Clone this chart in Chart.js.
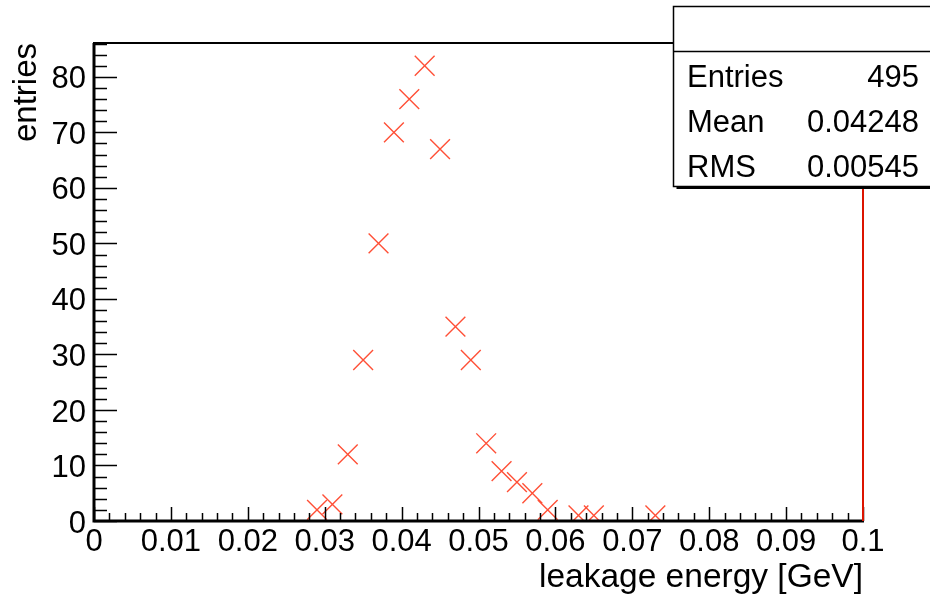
<!DOCTYPE html>
<html>
<head>
<meta charset="utf-8">
<script src="https://cdn.jsdelivr.net/npm/chart.js@4"></script>
<style>
html, body { margin: 0; padding: 0; background: #fff; }
#wrap { width: 930px; height: 597px; }
</style>
</head>
<body>
<div id="wrap"><canvas id="hist" width="930" height="597"></canvas></div>
<script>
// histogram contents (bin width 0.002 GeV)
const binCenters = [0.029, 0.031, 0.033, 0.035, 0.037, 0.039, 0.041, 0.043, 0.045, 0.047,
                    0.049, 0.051, 0.053, 0.055, 0.057, 0.059, 0.063, 0.065, 0.073];
const counts = [2, 3, 12, 29, 50, 70, 76, 82, 67, 35, 29, 14, 9, 7, 5, 2, 1, 1, 1];

const xTicks = [0, 0.01, 0.02, 0.03, 0.04, 0.05, 0.06, 0.07, 0.08, 0.09, 0.1];
const xTickLabels = ['0', '0.01', '0.02', '0.03', '0.04', '0.05', '0.06', '0.07', '0.08', '0.09', '0.1'];
const yTicks = [0, 10, 20, 30, 40, 50, 60, 70, 80];
const yTickLabels = ['0', '10', '20', '30', '40', '50', '60', '70', '80'];

const statsLabels = ['Entries', 'Mean', 'RMS'];
const statsValues = ['495', '0.04248', '0.00545'];

const FONT = '"Liberation Sans", Arial, sans-serif';
const markerColor = 'rgb(255, 80, 55)';

// ROOT style frame: inward ticks, thick axes, red right edge, stats box
const rootFrame = {
  id: 'rootFrame',
  afterDraw(chart) {
    const ctx = chart.ctx;
    const xs = chart.scales.x, ys = chart.scales.y;
    const a = chart.chartArea;
    ctx.save();
    ctx.strokeStyle = '#000';

    // x ticks (every 0.002, major every 0.01)
    ctx.lineWidth = 1.5;
    ctx.beginPath();
    for (let i = 0; i <= 50; i++) {
      const px = Math.round(xs.getPixelForValue(i * 0.002)) + 0.5;
      const len = i % 5 === 0 ? 14 : 8;
      ctx.moveTo(px, a.bottom);
      ctx.lineTo(px, a.bottom - len);
    }
    // y ticks (every 2, major every 10)
    for (let i = 0; 2 * i <= ys.max; i++) {
      const py = Math.round(ys.getPixelForValue(2 * i)) + 0.5;
      const len = i % 5 === 0 ? 23 : 13;
      ctx.moveTo(a.left, py);
      ctx.lineTo(a.left + len, py);
    }
    ctx.stroke();

    // axis lines
    ctx.lineWidth = 3;
    ctx.beginPath();
    ctx.moveTo(a.left, a.top);
    ctx.lineTo(a.left, a.bottom);
    ctx.lineTo(a.right + 1, a.bottom);
    ctx.stroke();

    // top frame line
    ctx.lineWidth = 2;
    ctx.beginPath();
    ctx.moveTo(a.left - 1, a.top);
    ctx.lineTo(a.right, a.top);
    ctx.stroke();

    // right edge drawn in the histogram colour
    ctx.strokeStyle = 'rgb(220, 20, 0)';
    ctx.lineWidth = 2;
    ctx.beginPath();
    ctx.moveTo(a.right, a.top);
    ctx.lineTo(a.right, a.bottom);
    ctx.stroke();

    // stats box
    const bx = 673.5, by = 6.5, bw = 270, bh = 180;
    ctx.fillStyle = '#fff';
    ctx.fillRect(bx, by, bw, bh);
    ctx.fillStyle = '#000';
    ctx.fillRect(bx + 3, by + bh, bw, 2.5);
    ctx.strokeStyle = '#000';
    ctx.lineWidth = 1.5;
    ctx.strokeRect(bx, by, bw, bh);
    ctx.beginPath();
    ctx.moveTo(bx, 51.5);
    ctx.lineTo(bx + bw, 51.5);
    ctx.stroke();

    ctx.font = '31px ' + FONT;
    ctx.textBaseline = 'alphabetic';
    const rows = [87, 131.5, 176.5];
    statsLabels.forEach((lab, i) => {
      ctx.textAlign = 'left';
      ctx.fillText(lab, 687, rows[i]);
      ctx.textAlign = 'right';
      ctx.fillText(statsValues[i], 919, rows[i]);
    });
    ctx.restore();
  }
};

new Chart(document.getElementById('hist'), {
  type: 'scatter',
  data: {
    datasets: [{
      data: binCenters.map((x, i) => ({ x: x, y: counts[i] })),
      pointStyle: 'crossRot',
      pointRadius: 14,
      pointBorderWidth: 1.4,
      borderColor: markerColor,
      backgroundColor: markerColor
    }]
  },
  options: {
    responsive: false,
    animation: false,
    devicePixelRatio: 1,
    layout: { padding: { top: 43, right: 67, left: 0, bottom: 0 } },
    plugins: { legend: { display: false }, tooltip: { enabled: false } },
    scales: {
      x: {
        type: 'linear',
        min: 0,
        max: 0.1,
        afterBuildTicks: s => { s.ticks = xTicks.map(v => ({ value: v })); },
        afterFit: s => { s.height = 76; },
        grid: { display: false, drawTicks: false },
        border: { display: false },
        ticks: {
          autoSkip: false,
          maxRotation: 0,
          padding: 3,
          color: '#000',
          font: { family: FONT, size: 31 },
          callback: (v, i) => xTickLabels[i]
        },
        title: {
          display: true,
          text: 'leakage energy [GeV]',
          align: 'end',
          color: '#000',
          font: { family: FONT, size: 33.5, lineHeight: 1 },
          padding: { top: 0, bottom: 2 }
        }
      },
      y: {
        type: 'linear',
        min: 0,
        max: 86.1,
        afterBuildTicks: s => { s.ticks = yTicks.map(v => ({ value: v })); },
        afterFit: s => { s.width = 94; },
        grid: { display: false, drawTicks: false },
        border: { display: false },
        ticks: {
          autoSkip: false,
          padding: 8,
          labelOffset: 3,
          color: '#000',
          font: { family: FONT, size: 31 },
          callback: (v, i) => yTickLabels[i]
        },
        title: {
          display: true,
          text: 'entries',
          align: 'end',
          color: '#000',
          font: { family: FONT, size: 33, lineHeight: 1 },
          padding: { top: 10, bottom: 0 }
        }
      }
    }
  },
  plugins: [rootFrame]
});
</script>
</body>
</html>
